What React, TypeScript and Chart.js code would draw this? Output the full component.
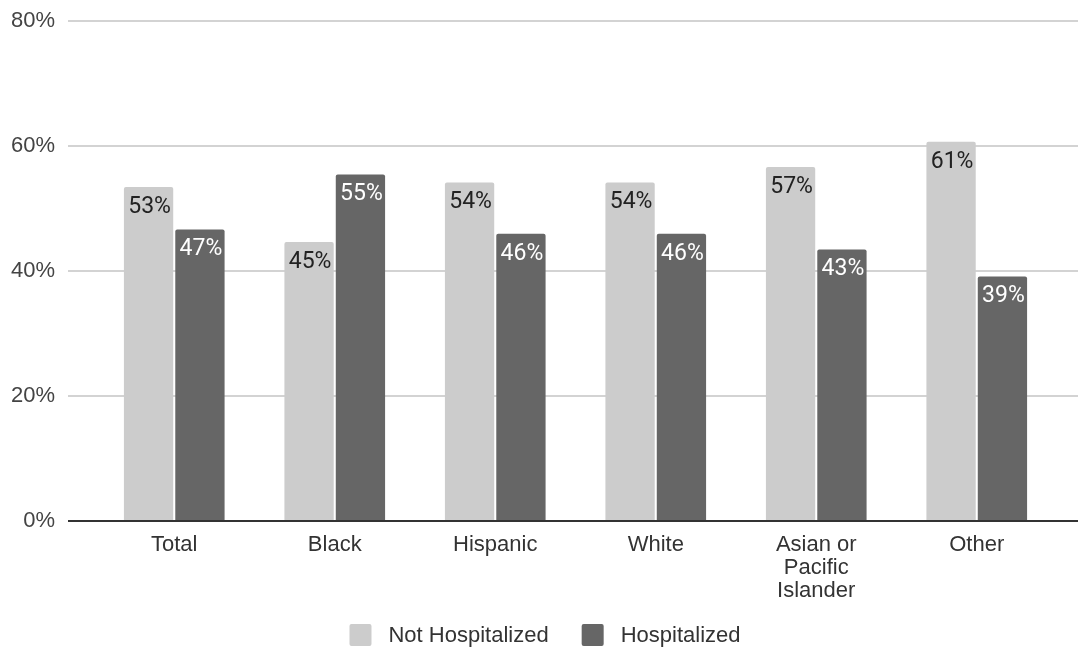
import React, { useEffect, useRef } from "react";
import { Chart, registerables } from "chart.js";

Chart.register(...registerables);

const categories: (string | string[])[] = [
  "Total",
  "Black",
  "Hispanic",
  "White",
  ["Asian or", "Pacific", "Islander"],
  "Other",
];
const notHospitalized = [53.4, 44.6, 54.1, 54.1, 56.6, 60.6];
const hospitalized = [46.6, 55.4, 45.9, 45.9, 43.4, 39.1];
const yTicks = [0, 20, 40, 60, 80];
const seriesNames = ["Not Hospitalized", "Hospitalized"];

const LIGHT = "#cccccc";
const DARK = "#666666";
const GRID = "#d3d3d3";
const BASE = "#333333";
const AXIS_FONT = "'Liberation Sans', Arial, sans-serif";

const align = (p: number, w: number) => Math.round(p - w / 2) + w / 2;

const gridExtension = {
  id: "gridExtension",
  beforeDatasetsDraw(chart: any) {
    const { ctx, chartArea, scales } = chart;
    const y = scales.y;
    ctx.save();
    yTicks.forEach((v) => {
      const py = align(y.getPixelForValue(v), 2);
      ctx.beginPath();
      ctx.strokeStyle = v === 0 ? BASE : GRID;
      ctx.lineWidth = 2;
      ctx.moveTo(chartArea.right - 2, py);
      ctx.lineTo(chart.width, py);
      ctx.stroke();
    });
    ctx.restore();
  },
};

const baseLine = {
  id: "baseLine",
  afterDatasetsDraw(chart: any) {
    const { ctx, scales } = chart;
    const py = align(scales.y.getPixelForValue(0), 2);
    ctx.save();
    ctx.beginPath();
    ctx.strokeStyle = BASE;
    ctx.lineWidth = 2;
    ctx.moveTo(68, py);
    ctx.lineTo(chart.width, py);
    ctx.stroke();
    ctx.restore();
  },
};

const dataLabels = {
  id: "dataLabels",
  afterDatasetsDraw(chart: any) {
    const { ctx } = chart;
    ctx.save();
    ctx.font = "23px Roboto, 'Noto Sans', sans-serif";
    ctx.textAlign = "center";
    ctx.textBaseline = "middle";
    chart.data.datasets.forEach((ds: any, di: number) => {
      const meta = chart.getDatasetMeta(di);
      meta.data.forEach((bar: any, i: number) => {
        const v = ds.data[i] as number;
        ctx.fillStyle = di === 0 ? "#222222" : "#ffffff";
        ctx.fillText(Math.round(v) + "%", bar.x + 1, bar.y + 20);
      });
    });
    ctx.restore();
  },
};

const customLegend = {
  id: "customLegend",
  afterDraw(chart: any) {
    const { ctx } = chart;
    const box = 22;
    const textGap = 17;
    const itemGap = 33;
    const cy = 635;
    ctx.save();
    ctx.font = "22px " + AXIS_FONT;
    ctx.textBaseline = "middle";
    ctx.textAlign = "left";
    const items = chart.data.datasets.map((ds: any) => ({
      label: ds.label as string,
      color: ds.backgroundColor as string,
      w: ctx.measureText(ds.label).width,
    }));
    const total =
      items.reduce((a: number, it: any) => a + box + textGap + it.w, 0) +
      itemGap * (items.length - 1);
    let x = 545 - total / 2;
    items.forEach((it: any) => {
      ctx.fillStyle = it.color;
      ctx.beginPath();
      ctx.roundRect(x, cy - box / 2, box, box, 2);
      ctx.fill();
      ctx.fillStyle = "#333333";
      ctx.fillText(it.label, x + box + textGap, cy + 1);
      x += box + textGap + it.w + itemGap;
    });
    ctx.restore();
  },
};

export default function App() {
  const ref = useRef<HTMLCanvasElement>(null);
  useEffect(() => {
    if (!ref.current) return;
    const chart = new Chart(ref.current, {
      type: "bar",
      data: {
        labels: categories,
        datasets: [
          {
            label: seriesNames[0],
            data: notHospitalized,
            backgroundColor: LIGHT,
            borderRadius: { topLeft: 2, topRight: 2, bottomLeft: 0, bottomRight: 0 },
            borderSkipped: "bottom",
            categoryPercentage: 0.64,
            barPercentage: 0.96,
          },
          {
            label: seriesNames[1],
            data: hospitalized,
            backgroundColor: DARK,
            borderRadius: { topLeft: 2, topRight: 2, bottomLeft: 0, bottomRight: 0 },
            borderSkipped: "bottom",
            categoryPercentage: 0.64,
            barPercentage: 0.96,
          },
        ],
      },
      options: {
        animation: false,
        responsive: true,
        maintainAspectRatio: false,
        layout: { padding: { top: 20.5, right: 21, bottom: 50, left: 0 } },
        scales: {
          x: {
            grid: { display: false },
            border: { display: false },
            ticks: {
              color: "#333333",
              font: { family: AXIS_FONT, size: 22, lineHeight: 1.05 },
              padding: 4,
              maxRotation: 0,
              autoSkip: false,
            },
            afterFit: (s: any) => {
              s.height = 82;
              s.paddingLeft = 0;
              s.paddingRight = 0;
            },
          },
          y: {
            min: 0,
            max: 80,
            border: { display: false },
            afterBuildTicks: (s: any) => {
              s.ticks = yTicks.map((v) => ({ value: v }));
            },
            afterFit: (s: any) => {
              s.width = 94;
              s.paddingTop = 0;
              s.paddingBottom = 0;
            },
            grid: {
              color: (c: any) => (c.tick && c.tick.value === 0 ? BASE : GRID),
              lineWidth: 2,
              drawTicks: true,
              tickLength: 26,
            },
            ticks: {
              color: "#444444",
              font: { family: AXIS_FONT, size: 22 },
              padding: 13,
              callback: (v: any) => v + "%",
            },
          },
        },
        plugins: {
          tooltip: { enabled: false },
          legend: { display: false },
        },
      },
      plugins: [gridExtension, baseLine, dataLabels, customLegend],
    });
    return () => chart.destroy();
  }, []);
  return (
    <div style={{ position: "fixed", left: 0, top: 0, width: 1078, height: 653 }}>
      <canvas ref={ref} />
    </div>
  );
}
